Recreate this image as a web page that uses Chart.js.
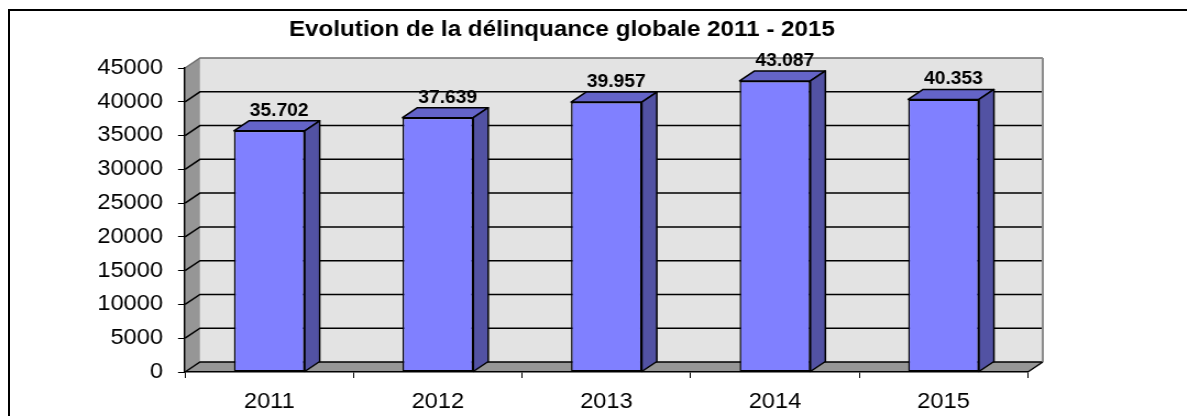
<!DOCTYPE html>
<html>
<head>
<meta charset="utf-8">
<script src="https://cdn.jsdelivr.net/npm/chart.js@4.4.0/dist/chart.umd.min.js"></script>
<style>
  html, body { margin: 0; padding: 0; background: #fff; overflow: hidden; }
  #frame { position: absolute; left: 8px; top: 9px; width: 1400px; height: 600px; border-left: 2px solid #000; border-top: 2px solid #000; }
  #wrap { position: absolute; left: 0; top: 0; width: 1079px; height: 416px; transform: scaleX(1.1); transform-origin: 0 0; }
</style>
</head>
<body>
<div id="frame"></div>
<div id="wrap"><canvas id="chart" width="1079" height="416"></canvas></div>
<script>
// data
const years = ['2011', '2012', '2013', '2014', '2015'];
const offenses = [35702, 37639, 39957, 43087, 40353];
const yMax = 45000;
const yStep = 5000;

// depth of the fake 3d (chart px, canvas is stretched 1.1x wide)
const DX = 13.6, DY = 10;

function poly(ctx, pts, fill, stroke) {
    ctx.beginPath();
    ctx.moveTo(pts[0][0], pts[0][1]);
    for (let i = 1; i < pts.length; i++) ctx.lineTo(pts[i][0], pts[i][1]);
    ctx.closePath();
    ctx.fillStyle = fill;
    ctx.fill();
    if (stroke) ctx.stroke();
}

function line(ctx, x1, y1, x2, y2) {
    ctx.beginPath();
    ctx.moveTo(x1, y1);
    ctx.lineTo(x2, y2);
    ctx.stroke();
}

function dotted(v) {
    return String(v).replace(/\B(?=(\d{3})+(?!\d))/g, '.');
}

const depthPlugin = {
    id: 'depth',
    beforeDraw(chart) {
        const ctx = chart.ctx, a = chart.chartArea, y = chart.scales.y;
        ctx.save();
        // back wall, left wall, floor
        ctx.fillStyle = '#e3e3e3';
        ctx.fillRect(a.left + DX, a.top - DY, a.right - a.left, a.bottom - a.top);
        poly(ctx, [[a.left, a.bottom], [a.left, a.top], [a.left + DX, a.top - DY], [a.left + DX, a.bottom - DY]], '#969696');
        poly(ctx, [[a.left, a.bottom], [a.right, a.bottom], [a.right + DX, a.bottom - DY], [a.left + DX, a.bottom - DY]], '#969696');

        // grid lines on walls
        y.ticks.forEach(t => {
            const py = y.getPixelForValue(t.value);
            ctx.strokeStyle = t.value === yMax ? '#6e6e6e' : '#000';
            ctx.lineWidth = 1.5;
            ctx.beginPath();
            ctx.moveTo(a.left, py);
            ctx.lineTo(a.left + DX, py - DY);
            ctx.lineTo(a.right + DX, py - DY);
            ctx.stroke();
        });

        ctx.strokeStyle = '#8c8c8c';
        ctx.lineWidth = 2;
        line(ctx, a.right + DX, a.top - DY, a.right + DX, a.bottom - DY);
        ctx.strokeStyle = '#000';
        ctx.lineWidth = 1.5;
        line(ctx, a.right, a.bottom, a.right + DX, a.bottom - DY);
        ctx.restore();
    },
    afterDatasetsDraw(chart) {
        const ctx = chart.ctx;
        const meta = chart.getDatasetMeta(0);
        ctx.save();
        ctx.lineWidth = 1.5;
        ctx.strokeStyle = '#000';
        ctx.lineJoin = 'round';
        meta.data.forEach((bar, i) => {
            const p = bar.getProps(['x', 'y', 'base', 'width'], true);
            const l = p.x - p.width / 2, r = p.x + p.width / 2;
            poly(ctx, [[l, p.y], [r, p.y], [r + DX, p.y - DY], [l + DX, p.y - DY]], '#6464c8', true);
            poly(ctx, [[r, p.y], [r, p.base], [r + DX, p.base - DY], [r + DX, p.y - DY]], '#5252a3', true);

            ctx.fillStyle = '#000';
            ctx.font = 'bold 17.5px Arial, "Liberation Sans", sans-serif';
            ctx.textAlign = 'center';
            ctx.textBaseline = 'middle';
            ctx.fillText(dotted(offenses[i]), p.x + 9, p.y - DY - 10);
        });
        ctx.restore();
    }
};

Chart.defaults.font.family = 'Arial, "Liberation Sans", sans-serif';
Chart.defaults.color = '#000';

const chart = new Chart(document.getElementById('chart'), {
    type: 'bar',
    data: {
        labels: years,
        datasets: [{
            data: offenses,
            backgroundColor: '#8080ff',
            borderColor: '#000',
            borderWidth: 1.5,
            borderSkipped: false,
            categoryPercentage: 0.42,
            barPercentage: 1
        }]
    },
    options: {
        responsive: false,
        animation: false,
        layout: { padding: { left: 0, right: 57.3, top: 0, bottom: 0 } },
        plugins: {
            legend: { display: false },
            tooltip: { enabled: false },
            title: {
                display: true,
                text: 'Evolution de la délinquance globale 2011 - 2015',
                font: { size: 22, weight: 'bold' },
                color: '#000',
                padding: { top: 17, bottom: 24.6 }
            }
        },
        scales: {
            x: {
                grid: { offset: true, drawOnChartArea: false, drawTicks: true, tickLength: 6, color: '#000', lineWidth: 1 },
                border: { display: true, color: '#000', width: 1.5 },
                ticks: { font: { size: 21.5 }, padding: 11, color: '#000' },
                afterFit(scale) { scale.height = 44; }
            },
            y: {
                min: 0,
                max: yMax,
                grid: { drawOnChartArea: false, drawTicks: true, tickLength: 6.36, color: '#000', lineWidth: 1 },
                border: { display: true, color: '#000', width: 1.5 },
                ticks: { stepSize: yStep, font: { size: 21.5 }, padding: 13.6, color: '#000', callback: v => String(v) },
                afterFit(scale) { scale.width = 168.2; }
            },
            y2: {
                position: 'right',
                min: 0,
                max: yMax,
                grid: { display: false },
                border: { display: false },
                ticks: { display: false },
                afterFit(scale) { scale.width = 87.3; }
            }
        }
    },
    plugins: [depthPlugin]
});
</script>
</body>
</html>
